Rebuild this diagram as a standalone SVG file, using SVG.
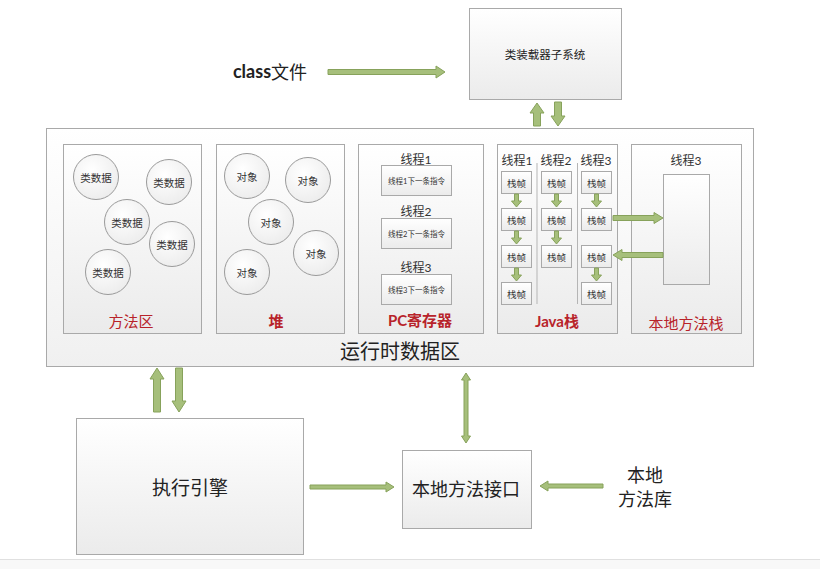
<svg xmlns="http://www.w3.org/2000/svg" width="820" height="569" viewBox="0 0 820 569">
  <defs>
    <linearGradient id="boxFill" x1="0" y1="0" x2="0" y2="1">
      <stop offset="0" stop-color="#ffffff"/>
      <stop offset="1" stop-color="#ebebeb"/>
    </linearGradient>
    <linearGradient id="bigFill" x1="0" y1="0" x2="0" y2="1">
      <stop offset="0" stop-color="#ffffff"/>
      <stop offset="1" stop-color="#f0f0f0"/>
    </linearGradient>
    <radialGradient id="circleFill" cx="0.4" cy="0.35" r="0.7">
      <stop offset="0" stop-color="#ffffff"/>
      <stop offset="1" stop-color="#ececec"/>
    </radialGradient>
  </defs>
  <style>
    .box { fill: url(#boxFill); stroke: #a9a9a9; stroke-width: 1; }
    .big { fill: url(#bigFill); stroke: #a9a9a9; stroke-width: 1; }
    .circ { fill: url(#circleFill); stroke: #9a9a9a; stroke-width: 1; }
    .sep { stroke: #b5b5b5; stroke-width: 1; }
    .arrow { fill: #a6bf7b; stroke: #87a25b; stroke-width: 1; stroke-linejoin: miter; }
    text { font-family: "Noto Sans CJK SC", "Noto Sans", sans-serif; fill: #222; text-anchor: middle; dominant-baseline: central; }
    .lat { font-family: Lato, "Noto Sans CJK SC", sans-serif; }
    .red { fill: #b8232a; font-size: 14px; }
    .small { font-size: 10.5px; fill: #333; }
    .tiny { font-size: 7.5px; fill: #333; }
    .thread { font-size: 12px; fill: #333; }
    .big18 { font-size: 18px; fill: #222; }
  </style>

  <!-- page background -->
  <rect x="0" y="0" width="820" height="569" fill="#ffffff"/>
  <rect x="0" y="559" width="820" height="10" fill="#f8f8f8"/>
  <line x1="0" y1="559.5" x2="820" y2="559.5" stroke="#e0e0e0"/>

  <!-- class file source -->
  <g id="class-file">
    <text x="270" y="71" class="big18"><tspan class="lat" font-weight="bold">class</tspan><tspan>文件</tspan></text>
  </g>

  <!-- class loader subsystem -->
  <g id="class-loader">
    <rect x="469.5" y="8.5" width="152" height="91" class="box"/>
    <text x="545" y="54" style="font-size:11.5px">类装载器子系统</text>
  </g>

  <!-- runtime data area -->
  <g id="runtime-data-area">
    <rect x="46.5" y="128.5" width="707" height="238" class="big"/>
    <text x="400" y="350" style="font-size:20px">运行时数据区</text>
  </g>

  <!-- method area -->
  <g id="method-area">
    <rect x="63.5" y="144.5" width="138" height="189" class="box"/>
    <circle cx="96" cy="177" r="22.5" class="circ"/>
    <text x="96" y="177" class="small">类数据</text>
    <circle cx="169" cy="182" r="22.5" class="circ"/>
    <text x="169" y="182" class="small">类数据</text>
    <circle cx="127" cy="222" r="22.5" class="circ"/>
    <text x="127" y="222" class="small">类数据</text>
    <circle cx="172" cy="244" r="22.5" class="circ"/>
    <text x="172" y="244" class="small">类数据</text>
    <circle cx="108" cy="272" r="22.5" class="circ"/>
    <text x="108" y="272" class="small">类数据</text>
    <text x="131" y="320" class="red" style="font-size:15px">方法区</text>
  </g>

  <!-- heap -->
  <g id="heap">
    <rect x="216.5" y="144.5" width="128" height="189" class="box"/>
    <circle cx="247" cy="176" r="22.5" class="circ"/>
    <text x="247" y="176" class="small">对象</text>
    <circle cx="308" cy="180" r="22.5" class="circ"/>
    <text x="308" y="180" class="small">对象</text>
    <circle cx="271" cy="222" r="22.5" class="circ"/>
    <text x="271" y="222" class="small">对象</text>
    <circle cx="316" cy="253" r="22.5" class="circ"/>
    <text x="316" y="253" class="small">对象</text>
    <circle cx="247" cy="272" r="22.5" class="circ"/>
    <text x="247" y="272" class="small">对象</text>
    <text x="276" y="320" class="red" style="font-size:15px;font-weight:bold">堆</text>
  </g>

  <!-- PC register -->
  <g id="pc-register">
    <rect x="358.5" y="144.5" width="125" height="189" class="box"/>
    <text x="416" y="159" class="thread lat">线程1</text>
    <rect x="381.5" y="165.5" width="70" height="30" class="box"/>
    <text x="416.5" y="181" class="tiny lat">线程1下一条指令</text>
    <text x="416" y="211" class="thread lat">线程2</text>
    <rect x="381.5" y="218.5" width="70" height="30" class="box"/>
    <text x="416.5" y="234" class="tiny lat">线程2下一条指令</text>
    <text x="416" y="267" class="thread lat">线程3</text>
    <rect x="381.5" y="274.5" width="70" height="30" class="box"/>
    <text x="416.5" y="290" class="tiny lat">线程3下一条指令</text>
    <text x="420" y="320" class="red lat" style="font-size:15px;font-weight:bold">PC寄存器</text>
  </g>

  <!-- Java stack -->
  <g id="java-stack">
    <rect x="497.5" y="144.5" width="120" height="189" class="box"/>
    <text x="517" y="160" class="thread lat">线程1</text>
    <text x="556" y="160" class="thread lat">线程2</text>
    <text x="596" y="160" class="thread lat">线程3</text>
    <line x1="537" y1="163" x2="537" y2="304" class="sep"/>
    <line x1="577.5" y1="163" x2="577.5" y2="304" class="sep"/>
    <!-- thread 1 frames -->
    <rect x="501.5" y="171.5" width="30" height="22" class="box"/>
    <text x="516.5" y="182.5" class="small" style="font-size:9.5px">栈帧</text>
    <rect x="501.5" y="208.5" width="30" height="22" class="box"/>
    <text x="516.5" y="219.5" class="small" style="font-size:9.5px">栈帧</text>
    <rect x="501.5" y="245.5" width="30" height="22" class="box"/>
    <text x="516.5" y="256.5" class="small" style="font-size:9.5px">栈帧</text>
    <rect x="501.5" y="282.5" width="30" height="22" class="box"/>
    <text x="516.5" y="293.5" class="small" style="font-size:9.5px">栈帧</text>
    <!-- thread 2 frames -->
    <rect x="541.5" y="171.5" width="30" height="22" class="box"/>
    <text x="556.5" y="182.5" class="small" style="font-size:9.5px">栈帧</text>
    <rect x="541.5" y="208.5" width="30" height="22" class="box"/>
    <text x="556.5" y="219.5" class="small" style="font-size:9.5px">栈帧</text>
    <rect x="541.5" y="245.5" width="30" height="22" class="box"/>
    <text x="556.5" y="256.5" class="small" style="font-size:9.5px">栈帧</text>
    <!-- thread 3 frames -->
    <rect x="581.5" y="171.5" width="30" height="22" class="box"/>
    <text x="596.5" y="182.5" class="small" style="font-size:9.5px">栈帧</text>
    <rect x="581.5" y="208.5" width="30" height="22" class="box"/>
    <text x="596.5" y="219.5" class="small" style="font-size:9.5px">栈帧</text>
    <rect x="581.5" y="245.5" width="30" height="22" class="box"/>
    <text x="596.5" y="256.5" class="small" style="font-size:9.5px">栈帧</text>
    <rect x="581.5" y="282.5" width="30" height="22" class="box"/>
    <text x="596.5" y="293.5" class="small" style="font-size:9.5px">栈帧</text>
    <text x="557" y="321" class="red lat" style="font-size:15px;font-weight:bold">Java栈</text>
  </g>

  <!-- native method stack -->
  <g id="native-method-stack">
    <rect x="631.5" y="144.5" width="110" height="189" class="box"/>
    <text x="686" y="160" class="thread lat">线程3</text>
    <rect x="663.5" y="174.5" width="46" height="110" class="box"/>
    <text x="686" y="322" class="red" style="font-size:15px">本地方法栈</text>
  </g>

  <!-- execution engine -->
  <g id="execution-engine">
    <rect x="76.5" y="418.5" width="227" height="136" class="box"/>
    <text x="190" y="486" style="font-size:19px">执行引擎</text>
  </g>

  <!-- native method interface -->
  <g id="native-interface">
    <rect x="402.5" y="450.5" width="129" height="78" class="box"/>
    <text x="466" y="488" style="font-size:18px">本地方法接口</text>
  </g>

  <!-- native method library -->
  <g id="native-library">
    <text x="645" y="474" style="font-size:18px">本地</text>
    <text x="645" y="498" style="font-size:18px">方法库</text>
  </g>

  <!-- connectors -->
  <g id="connectors">
    <!-- class file -> class loader -->
    <polygon class="arrow" points="328,69.5 436,69.5 436,66 445,72 436,78 436,74.5 328,74.5"/>
    <!-- class loader <-> runtime data area -->
    <polygon class="arrow" points="537,103 544,113 540.5,113 540.5,126 533.5,126 533.5,113 530,113"/>
    <polygon class="arrow" points="554.5,102 561.5,102 561.5,116 565,116 558,126 551,116 554.5,116"/>
    <!-- thread 1 frame chain -->
    <polygon class="arrow" points="514.5,194 518.5,194 518.5,201 521.5,201 516.5,207 511.5,201 514.5,201"/>
    <polygon class="arrow" points="514.5,231 518.5,231 518.5,238 521.5,238 516.5,244 511.5,238 514.5,238"/>
    <polygon class="arrow" points="514.5,268 518.5,268 518.5,275 521.5,275 516.5,281 511.5,275 514.5,275"/>
    <!-- thread 2 frame chain -->
    <polygon class="arrow" points="554.5,194 558.5,194 558.5,201 561.5,201 556.5,207 551.5,201 554.5,201"/>
    <polygon class="arrow" points="554.5,231 558.5,231 558.5,238 561.5,238 556.5,244 551.5,238 554.5,238"/>
    <!-- thread 3 frame chain -->
    <polygon class="arrow" points="594.5,194 598.5,194 598.5,201 601.5,201 596.5,207 591.5,201 594.5,201"/>
    <polygon class="arrow" points="594.5,268 598.5,268 598.5,275 601.5,275 596.5,281 591.5,275 594.5,275"/>
    <!-- Java stack <-> native method stack -->
    <polygon class="arrow" points="613,215.5 654,215.5 654,212.5 663,218 654,223.5 654,220.5 613,220.5"/>
    <polygon class="arrow" points="663,252.5 622,252.5 622,249.5 613,255 622,260.5 622,257.5 663,257.5"/>
    <!-- runtime data area <-> execution engine -->
    <polygon class="arrow" points="157,368 164,379 160.5,379 160.5,412 153.5,412 153.5,379 150,379"/>
    <polygon class="arrow" points="175.5,368 182.5,368 182.5,401 186,401 179,412 172,401 175.5,401"/>
    <!-- runtime data area <-> native interface -->
    <polygon class="arrow" points="466,373 470.5,380 468,380 468,436 470.5,436 466,443 461.5,436 464,436 464,380 461.5,380"/>
    <!-- execution engine -> native interface -->
    <polygon class="arrow" points="310,485 386,485 386,482 394,487 386,492 386,489 310,489"/>
    <!-- native library -> native interface -->
    <polygon class="arrow" points="603,484 548,484 548,481 540,486 548,491 548,488 603,488"/>
  </g>
</svg>
